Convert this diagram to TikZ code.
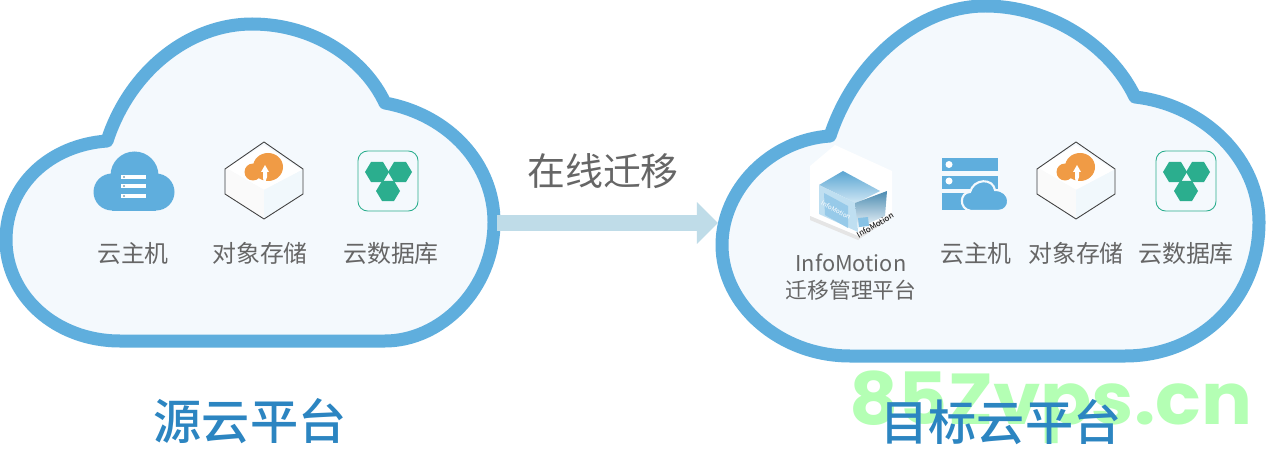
\documentclass[tikz,border=0pt]{standalone}
\usepackage{fontspec}
\setmainfont{Noto Sans CJK SC}
\newfontfamily\titlefont{Noto Sans CJK SC Medium}
\newfontfamily\wmfont{Poppins}
\usetikzlibrary{arrows.meta}
\definecolor{cloudblue}{HTML}{5FAEDD}
\definecolor{cloudfill}{HTML}{F4F9FD}
\definecolor{flowblue}{HTML}{BFDCE8}
\definecolor{titleblue}{HTML}{2C85C1}
\definecolor{labelgray}{HTML}{666666}
\definecolor{boxorange}{HTML}{F09B45}
\definecolor{dbgreen}{HTML}{2BAE8E}
\definecolor{markgreen}{HTML}{B4FFB4}
\tikzset{
  cloudline/.style={draw=cloudblue, fill=cloudfill, line width=7.4pt, line join=round},
  flowline/.style={draw=flowblue, line width=9.1pt, -{Triangle[length=12pt, width=23pt]}},
  iconlabel/.style={inner sep=0pt, text=labelgray, font=\fontsize{13.6}{16.5}\selectfont},
  mgrlabel/.style={inner sep=0pt, text=labelgray, font=\fontsize{12.4}{15.3}\selectfont, align=center},
  flowlabel/.style={inner sep=0pt, text=labelgray, font=\fontsize{21.6}{26}\selectfont},
  platformlabel/.style={inner sep=0pt, text=titleblue, font=\titlefont\fontsize{27.4}{32}\selectfont},
  watermark/.style={inner sep=0pt, text=markgreen, xscale=1.05, font=\wmfont\bfseries\fontsize{41}{46}\selectfont},
  boxicon/.pic={
    \fill[white] (0,-36) -- (38,-11) -- (0,9) -- (-38,-13) -- cycle;
    \fill[black!2] (-38,-13) -- (0,9) -- (0,37) -- (-38,14) -- cycle;
    \fill[cloudblue!9] (38,-11) -- (0,9) -- (0,37) -- (38,14) -- cycle;
    \draw[draw=black!75, line width=0.5pt, line join=round] (0,-39) -- (39,-12) -- (39,13) -- (0,38) -- (-39,13) -- (-39,-12) -- cycle;
    \fill[boxorange] (4,-14) ellipse (15 and 14);
    \fill[boxorange] (-11,-9) circle (8.5);
    \fill[white] (1,-16) -- (5,-9) -- (3,-9) -- (3,-4) -- (1.5,0.5) -- (-0.5,0.5) -- (-1,-4) -- (-1,-9) -- (-3,-9) -- cycle;
  },
  dbicon/.pic={
    \draw[dbgreen, line width=0.5pt, rounded corners=5.5pt] (-30,-30) rectangle (30,30);
    \foreach \hx/\hy in {-11/-9, 12/-9, 0/10} {
      \fill[dbgreen] (\hx-12,\hy) -- (\hx-6,\hy-10) -- (\hx+6,\hy-10) -- (\hx+12,\hy) -- (\hx+6,\hy+10) -- (\hx-6,\hy+10) -- cycle;
    }
  },
}
\begin{document}
\begin{tikzpicture}[x=0.02cm, y=-0.02cm]
\useasboundingbox (0,0) rectangle (1266,449);
\fill[white] (0,0) rectangle (1266,449);
\draw[cloudline] (107,141) .. controls (130,70) and (190,24) .. (252,24) .. controls (315,24) and (365,60) .. (385,103) .. controls (450,115) and (494,165) .. (494,222) .. controls (494,290) and (440,341) .. (385,341) -- (120,341) .. controls (55,341) and (6,295) .. (6,240) .. controls (6,185) and (50,145) .. (107,141) -- cycle;
\draw[cloudline] (830,136) .. controls (855,60) and (920,6) .. (985,6) .. controls (1050,6) and (1110,45) .. (1135,97) .. controls (1205,105) and (1259,160) .. (1259,222) .. controls (1259,300) and (1200,356) .. (1125,356) -- (850,356) .. controls (780,356) and (722,305) .. (722,245) .. controls (722,190) and (770,140) .. (830,136) -- cycle;
\coordinate (srcedge) at (497,223);
\coordinate (dstedge) at (718,223);
\draw[flowline] (srcedge) -- (dstedge);
\node[flowlabel] (flow) at (603,171) {在线迁移};
\fill[cloudblue] (134.5,175.5) circle (24);
\fill[cloudblue] (112,192) circle (18.5);
\fill[cloudblue] (156,192) circle (18.5);
\fill[cloudblue] (112,180) rectangle (156,210.5);
\foreach \by in {177,186,196} {
  \fill[white] (121,\by-2) rectangle (146,\by+2);
  \fill[cloudblue!70!black] (124,\by) circle (0.8);
}
\pic at (264,181) {boxicon};
\pic at (388,181) {dbicon};
\node[iconlabel] (srchost) at (133,253) {云主机};
\node[iconlabel] (srcbox) at (260,253) {对象存储};
\node[iconlabel] (srcdb) at (391,253) {云数据库};
\node[watermark] (wmark) at (1051,407) {85Zvps.cn};
\node[platformlabel] (srctitle) at (250,421) {源云平台};
\fill[white] (810,166) -- (835,145) -- (892,171) -- (892,213) -- (858,236) -- (810,216) -- cycle;
\fill[black!10] (810,216) -- (858,236) -- (892,213) -- (892,217) -- (858,240) -- (810,220) -- cycle;
\shade[top color=cloudblue!95!black, bottom color=cloudblue!30] (819,185) -- (843,171) -- (880,191) -- (856,203) -- cycle;
\fill[cloudblue!40] (819,185) -- (856,203) -- (858,232) -- (819,214) -- cycle;
\fill[cloudblue!65] (824,193) -- (848,206) -- (848,228) -- (825,215) -- cycle;
\shade[top color=cloudblue!80!black, bottom color=cloudblue!8] (855,203) -- (887,191) -- (885,216) -- (858,228) -- cycle;
\fill[cloudblue!75] (858,218) -- (868,217) -- (869,226) -- (859,227) -- cycle;
\node[inner sep=0pt, rotate=-28, text=white, font=\fontsize{3.6}{4}\selectfont] (boxtext) at (836,210) {InfoMotion};
\node[inner sep=0pt, rotate=30, text=black, font=\itshape\fontsize{4.6}{6}\selectfont] (boxmark) at (875,225) {InfoMotion};
\node[mgrlabel] (dstmgr) at (851,277) {InfoMotion\\迁移管理平台};
\fill[cloudblue] (942,158) rectangle (998,171);
\fill[cloudblue] (942,176) rectangle (998,189);
\fill[cloudblue] (942,193) rectangle (998,210);
\fill[white] (949,164.5) circle (3.5);
\fill[white] (949,181) circle (3.5);
\fill[cloudblue, draw=cloudfill, line width=1.2pt] (971,211) .. controls (958,209) and (960,192) .. (970,192) .. controls (974,178) and (993,178) .. (995,190) .. controls (1012,190) and (1012,211) .. (998,211) -- cycle;
\pic at (1076,181) {boxicon};
\pic at (1186,181) {dbicon};
\node[iconlabel] (dsthost) at (976,253) {云主机};
\node[iconlabel] (dstbox) at (1076,253) {对象存储};
\node[iconlabel] (dstdb) at (1186,253) {云数据库};
\node[platformlabel] (dsttitle) at (1001,422) {目标云平台};
\end{tikzpicture}
\end{document}
